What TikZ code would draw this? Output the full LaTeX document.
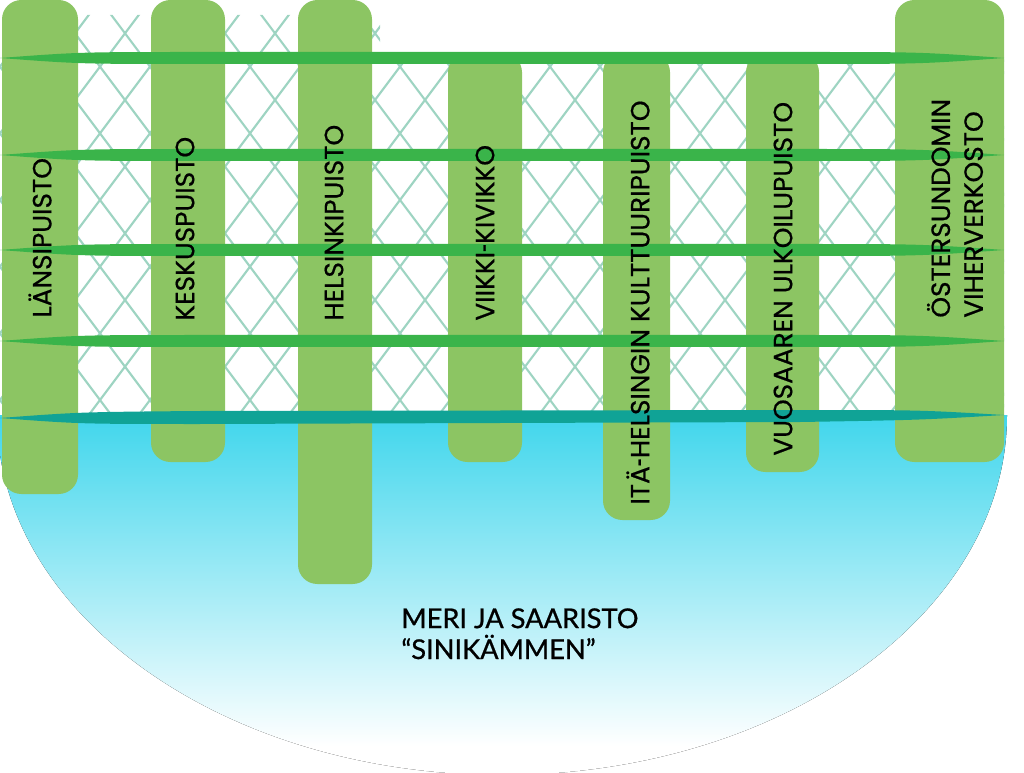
\documentclass[tikz,border=0pt]{standalone}
\usepackage{fontspec}
\setmainfont{Poppins}[FakeBold=0.6]
\newfontfamily\seafont{Lato}[FakeBold=0.8]
\usepackage{tikz}
\usetikzlibrary{positioning}
\definecolor{parkgreen}{RGB}{140,197,99}
\definecolor{linkgreen}{RGB}{58,180,74}
\definecolor{shoreteal}{RGB}{16,163,150}
\definecolor{seacyan}{RGB}{64,214,236}
\definecolor{netgreen}{RGB}{158,212,194}
\pgfdeclareverticalshading{seafade}{100bp}{color(0bp)=(white); color(29bp)=(white); color(75bp)=(seacyan); color(100bp)=(seacyan)}
\newcommand\parkdash{\scalebox{0.55}[1]{-}}

\begin{document}
\begin{tikzpicture}[x=0.02cm, y=-0.02cm,
    bar/.style={fill=parkgreen, rounded corners=11pt},
    link/.style={fill=linkgreen},
    netline/.style={draw=netgreen, line width=1.2pt},
    parklabel/.style={rotate=90, anchor=west, inner sep=0pt, align=left, font=\fontsize{15}{18.7}\selectfont},
    seatext/.style={anchor=north west, inner sep=0pt, align=left, font=\seafont\fontsize{15.5}{17.6}\selectfont}]
    \useasboundingbox (0,0) rectangle (1024,773);

    % Net between the parks
    \begin{scope}
        \clip (0,15) -- (380,15) -- (380,55) -- (1004,55) -- (1004,415) -- (0,415) -- cycle;
        \foreach \a in {-400,-350,...,1100}
            \draw[netline] (\a,0) -- ++(330,440);
        \foreach \a in {0,50,...,1500}
            \draw[netline] (\a,0) -- ++(-330,440);
    \end{scope}

    % Sea
    \fill[shading=seafade] (-3,415) arc[start angle=180, end angle=0, x radius=505, y radius=360] -- cycle;

    % Park fingers
    \fill[bar] (2,0) rectangle (78,494);
    \fill[bar] (151,0) rectangle (225,462);
    \fill[bar] (298,0) rectangle (372,584);
    \fill[bar] (448,53) rectangle (522,462);
    \fill[bar] (603,53) rectangle (670,520);
    \fill[bar] (746,53) rectangle (819,472);
    \fill[bar] (895,0) rectangle (1004,462);

    % Green links across
    \foreach \y in {58,155,250,341}
        \fill[link] (0,\y) .. controls (80,\y-6) .. (200,\y-6) -- (800,\y-6) .. controls (920,\y-6) .. (1004,\y)
            .. controls (920,\y+6) .. (800,\y+6) -- (200,\y+6) .. controls (80,\y+6) .. cycle;

    % Shore line
    \fill[shoreteal] (0,418) .. controls (80,412) .. (200,411) -- (800,410) .. controls (920,410) .. (1004,415)
        .. controls (920,420) .. (800,422) -- (200,424) .. controls (80,424) .. cycle;

    % Park names
    \node[parklabel] (lansi) at (40,318) {LÄNSIPUISTO};
    \node[parklabel] (keskus) at (185,321) {KESKUSPUISTO};
    \node[parklabel] (helsinki) at (334,321) {HELSINKIPUISTO};
    \node[parklabel] (viikki) at (485,321) {VIIKKI\parkdash KIVIKKO};
    \node[parklabel] (itakeskus) at (638,505) {ITÄ\parkdash HELSINGIN KULTTUURIPUISTO};
    \node[parklabel] (vuosaari) at (783,456) {VUOSAAREN ULKOILUPUISTO};
    \node[parklabel] (ostersundom) at (955,318) {ÖSTERSUNDOMIN\\VIHERVERKOSTO};

    % Sea name
    \node[seatext] (meri) at (401,608) {MERI JA SAARISTO\\“SINIKÄMMEN”};
\end{tikzpicture}
\end{document}
